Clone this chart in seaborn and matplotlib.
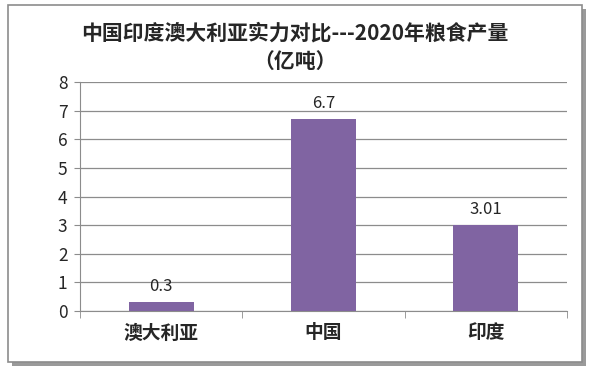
import matplotlib
matplotlib.use('Agg')
import matplotlib.pyplot as plt
from matplotlib.patches import Rectangle
import seaborn as sns
import pandas as pd

countries = ['澳大利亚', '中国', '印度']
output = [0.3, 6.7, 3.01]
value_labels = ['0.3', '6.7', '3.01']
yticks = [0, 1, 2, 3, 4, 5, 6, 7, 8]

sns.set_style('white')
plt.rcParams['font.family'] = ['Noto Sans CJK SC', 'DejaVu Sans']

df = pd.DataFrame({'country': countries, 'output': output})

fig = plt.figure(figsize=(5.9, 3.71), dpi=100)

# chart frame with shadow
fig.patches.append(Rectangle((12 / 590, 5 / 371), 574 / 590, 357 / 371,
                             transform=fig.transFigure, facecolor='#9a9a9a',
                             edgecolor='none', zorder=0))
fig.patches.append(Rectangle((8 / 590, 9 / 371), 574 / 590, 357 / 371,
                             transform=fig.transFigure, facecolor='white',
                             edgecolor='#8c8c8c', linewidth=1.2, zorder=1))

ax = fig.add_axes([80 / 590, 60 / 371, 487 / 590, 229 / 371])
ax.set_zorder(5)
ax.set_facecolor('none')
sns.barplot(data=df, x='country', y='output', color='#8064A2', saturation=1,
            width=0.4, linewidth=0, ax=ax, zorder=3)

ax.set_ylim(0, 8)
ax.set_xlim(-0.5, 2.5)
ax.set_yticks(yticks)
ax.yaxis.grid(True, color='#8c8c8c', linewidth=0.9)
ax.set_axisbelow(True)
for s in ['top', 'right']:
    ax.spines[s].set_visible(False)
ax.spines['left'].set_color('#8c8c8c')
ax.spines['bottom'].set_color('#8c8c8c')
ax.set_xlabel('')
ax.set_ylabel('')
ax.tick_params(axis='y', labelsize=12.5, length=4, color='#8c8c8c', left=True, pad=5)
ax.set_xticks([-0.5, 0.5, 1.5, 2.5], minor=True)
ax.tick_params(axis='x', which='major', length=0, labelsize=13.5, pad=9)
ax.tick_params(axis='x', which='minor', length=5, color='#8c8c8c', bottom=True)
for lab in ax.get_xticklabels():
    lab.set_fontweight('bold')

for i, (v, t) in enumerate(zip(output, value_labels)):
    ax.annotate(t, (i, v), xytext=(0, 5), textcoords='offset points',
                ha='center', va='bottom', fontsize=12)

fig.text(0.5, 1 - 33 / 371, '中国印度澳大利亚实力对比---2020年粮食产量',
         ha='center', va='center', fontsize=15, fontweight='bold', zorder=6)
fig.text(0.5, 1 - 61 / 371, '（亿吨）', ha='center', va='center',
         fontsize=15, fontweight='bold', zorder=6)

fig.savefig('out.png', dpi=100)
